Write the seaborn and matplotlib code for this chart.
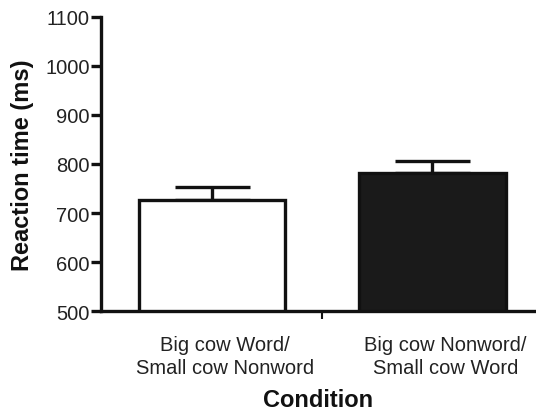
import matplotlib
matplotlib.use("Agg")
import matplotlib.pyplot as plt
import matplotlib.transforms as mtransforms
import seaborn as sns
import pandas as pd

categories = ["Big cow Word/\nSmall cow Nonword", "Big cow Nonword/\nSmall cow Word"]
means = [726, 781]
sems = [27, 26]
fills = ["#ffffff", "#1a1a1a"]

sns.set_theme(style="ticks")
plt.rcParams["font.family"] = ["Liberation Sans", "DejaVu Sans"]

df = pd.DataFrame({"Condition": categories, "RT": means})

fig = plt.figure(figsize=(5.36, 4.14), dpi=100)
ax = fig.add_axes([0.188, 0.246, 0.812, 0.711])

sns.barplot(data=df, x="Condition", y="RT", hue="Condition", palette=fills,
            order=categories, hue_order=categories, width=0.665,
            edgecolor="#111111", linewidth=2.4, errorbar=None, legend=False, ax=ax,
            zorder=2)

ax.errorbar(range(len(means)), means, yerr=[[0] * len(sems), sems], fmt="none",
            ecolor="#111111", elinewidth=2.4, capsize=27, capthick=2.4, zorder=1)

ax.set_ylim(500, 1100)
ax.set_yticks(range(500, 1101, 100))
ax.set_xlim(-0.505, 1.47)

for s in ["top", "right"]:
    ax.spines[s].set_visible(False)
for s in ["left", "bottom"]:
    ax.spines[s].set_linewidth(2.4)
    ax.spines[s].set_color("#111111")

ax.tick_params(axis="y", length=7, width=2.4, color="#111111", labelsize=14.5, pad=1,
               labelcolor="#222222")
ax.tick_params(axis="x", which="major", length=0, labelsize=14.5, pad=17, labelcolor="#222222")
ax.set_xticks([0.5], minor=True)
ax.tick_params(axis="x", which="minor", length=6, width=1.5, color="#111111")

offset = mtransforms.ScaledTranslation(13 / 100, 0, fig.dpi_scale_trans)
for lab in ax.get_xticklabels():
    lab.set_transform(lab.get_transform() + offset)
    lab.set_linespacing(1.3)

ax.set_xlabel("Condition", fontsize=17, fontweight="bold", labelpad=8, color="#111111")
ax.set_ylabel("Reaction time (ms)", fontsize=17, fontweight="bold", labelpad=8, color="#111111")

fig.savefig("out.png", dpi=100, facecolor="white")
